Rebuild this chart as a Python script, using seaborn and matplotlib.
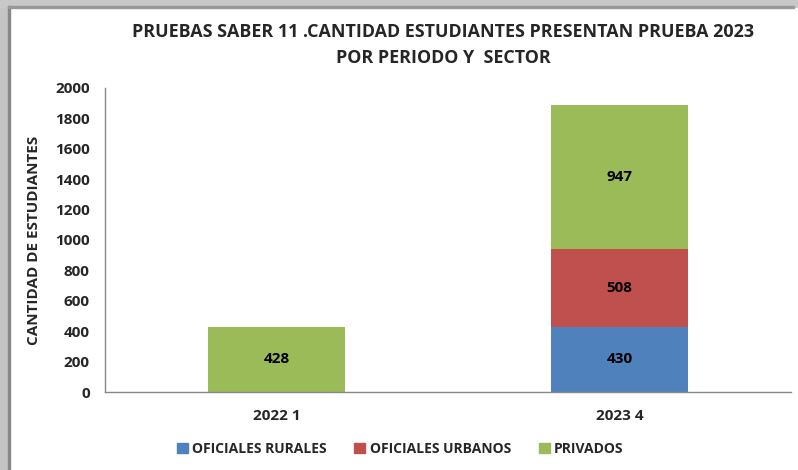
import numpy as np
import pandas as pd
import seaborn as sns
import matplotlib.pyplot as plt
from matplotlib.patches import Rectangle

periodos = ["2022 1", "2023 4"]
oficiales_rurales = [0, 430]
oficiales_urbanos = [0, 508]
privados = [428, 947]
series = ["OFICIALES RURALES", "OFICIALES URBANOS", "PRIVADOS"]
colores = ["#4F81BD", "#C0504D", "#9BBB59"]

sns.set_style("white")
plt.rcParams["font.family"] = ["Open Sans", "DejaVu Sans"]
plt.rcParams["font.weight"] = "bold"

df = pd.DataFrame({"periodo": periodos,
                   "rurales": oficiales_rurales,
                   "urbanos": oficiales_urbanos,
                   "privados": privados})
df["tope_urbanos"] = df["rurales"] + df["urbanos"]
df["tope_privados"] = df["tope_urbanos"] + df["privados"]

fig = plt.figure(figsize=(7.98, 4.70), dpi=100)
# gray frame shadow top / left
fig.patches.append(Rectangle((0, 0), 9 / 798, 1, transform=fig.transFigure, color="#c4c4c4", zorder=0))
fig.patches.append(Rectangle((0, 1 - 7 / 470), 1, 7 / 470, transform=fig.transFigure, color="#c8c8c8", zorder=0))
fig.patches.append(Rectangle((8 / 798, 0), 1.5 / 798, 1 - 6 / 470, transform=fig.transFigure, color="#888888", zorder=1))
fig.patches.append(Rectangle((8 / 798, 1 - 7.5 / 470), 1 - 12 / 798, 1.5 / 470, transform=fig.transFigure, color="#999999", zorder=1))

ax = fig.add_axes([105 / 798, 78 / 470, 686 / 798, 304 / 470])

# stacked bars: draw cumulative totals back to front
kw = dict(width=0.4, saturation=1, linewidth=0, ax=ax)
sns.barplot(data=df, x="periodo", y="tope_privados", color=colores[2], **kw)
sns.barplot(data=df, x="periodo", y="tope_urbanos", color=colores[1], **kw)
sns.barplot(data=df, x="periodo", y="rurales", color=colores[0], **kw)

for i in range(len(periodos)):
    base = 0
    for v in [oficiales_rurales[i], oficiales_urbanos[i], privados[i]]:
        if v > 0:
            ax.text(i, base + v / 2, str(v), ha="center", va="center",
                    fontsize=11, fontweight="bold", color="black")
        base += v

ax.set_ylim(0, 2000)
ax.set_yticks(np.arange(0, 2001, 200))
ax.set_xlim(-0.5, 1.5)
ax.set_xticks([0, 1])
ax.set_xticklabels(periodos, fontsize=11, fontweight="bold")
ax.set_xticks([-0.5, 0.5, 1.5], minor=True)
ax.tick_params(axis="x", which="major", length=0, pad=12)
ax.tick_params(axis="x", which="minor", length=5, color="#888888", width=1)
ax.tick_params(axis="y", length=5, color="#888888", width=1, labelsize=11, pad=6)
for lab in ax.get_yticklabels():
    lab.set_fontweight("bold")
ax.set_xlabel("")
ax.set_ylabel("CANTIDAD DE ESTUDIANTES", fontsize=11, fontweight="bold", labelpad=10)

for s in ["top", "right"]:
    ax.spines[s].set_visible(False)
for s in ["left", "bottom"]:
    ax.spines[s].set_color("#888888")
    ax.spines[s].set_linewidth(1)

fig.text(443 / 798, 1 - 45 / 470,
         "PRUEBAS SABER 11 .CANTIDAD ESTUDIANTES PRESENTAN PRUEBA 2023\nPOR PERIODO Y  SECTOR",
         ha="center", va="center", fontsize=12.9, fontweight="bold", linespacing=1.6)

handles = [Rectangle((0, 0), 1, 1, color=c) for c in colores]
fig.legend(handles, series, loc="center", bbox_to_anchor=(400 / 798, 1 - 449 / 470),
           ncol=3, frameon=False, handlelength=0.8, handleheight=0.8,
           handletextpad=0.3, columnspacing=2.0, prop={"weight": "bold", "size": 10})

fig.savefig("out.png", dpi=100)
